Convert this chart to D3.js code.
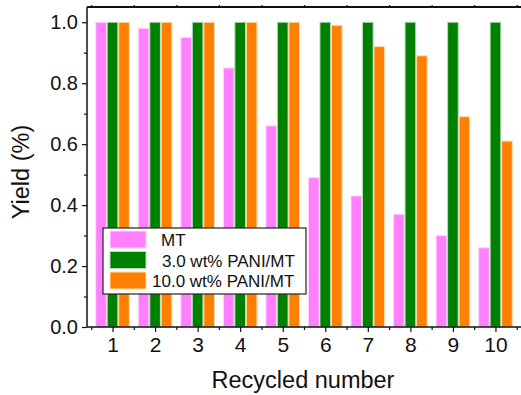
<!DOCTYPE html>
<html>
<head>
<meta charset="utf-8">
<script src="https://cdn.jsdelivr.net/npm/d3@7"></script>
<style>
  body { margin: 0; background: #fff; }
  svg { display: block; font-family: "Liberation Sans", Arial, sans-serif; }
</style>
</head>
<body>
<div id="chart"></div>
<script>
var cycles = [1, 2, 3, 4, 5, 6, 7, 8, 9, 10];
var seriesNames = ["MT", "3.0 wt% PANI/MT", "10.0 wt% PANI/MT"];
var mt = [1.0, 0.98, 0.95, 0.85, 0.66, 0.49, 0.43, 0.37, 0.30, 0.26];
var pani3 = [1.0, 1.0, 1.0, 1.0, 1.0, 1.0, 1.0, 1.0, 1.0, 1.0];
var pani10 = [1.0, 1.0, 1.0, 1.0, 1.0, 0.99, 0.92, 0.89, 0.69, 0.61];
var yTicks = [0, 0.2, 0.4, 0.6, 0.8, 1.0];

var colors = ["#ff80ff", "#008000", "#ff8000"];
var edges = ["#ffd6ff", "#b8dcb8", "#ffdcb8"];
var allSeries = [mt, pani3, pani10];

var W = 521, H = 395;
var pLeft = 87, pRight = 521, pTop = 7, pBottom = 327;

var svg = d3.select("#chart").append("svg")
    .attr("width", W)
    .attr("height", H);

var x = d3.scaleLinear().domain([0.4, 10.6]).range([pLeft, pRight]);
var y = d3.scaleLinear().domain([0, 1.05]).range([pBottom, pTop]);

var barW = 0.25, step = 0.27;

// bars
allSeries.forEach(function(vals, s) {
  svg.append("g")
    .selectAll("rect")
    .data(vals)
    .enter()
    .append("rect")
    .attr("x", function(d, i) { return x(cycles[i] + (s - 1) * step - barW / 2); })
    .attr("width", x(barW) - x(0))
    .attr("y", function(d) { return y(d); })
    .attr("height", function(d) { return y(0) - y(d); })
    .attr("fill", colors[s])
    .attr("stroke", edges[s])
    .attr("stroke-width", 1);
});

var halfTicks = d3.range(0.5, 10.6, 1);
var yMinor = [0.1, 0.3, 0.5, 0.7, 0.9];

// axes
var gx = svg.append("g").attr("transform", "translate(0," + pBottom + ")")
  .call(d3.axisBottom(x).tickValues(cycles).tickSize(5).tickPadding(5).tickFormat(d3.format("d")));
var gxm = svg.append("g").attr("transform", "translate(0," + pBottom + ")")
  .call(d3.axisBottom(x).tickValues(halfTicks).tickSize(3).tickFormat(""));
var gy = svg.append("g").attr("transform", "translate(" + pLeft + ",0)")
  .call(d3.axisLeft(y).tickValues(yTicks).tickSize(5).tickPadding(4).tickFormat(d3.format(".1f")));
var gym = svg.append("g").attr("transform", "translate(" + pLeft + ",0)")
  .call(d3.axisLeft(y).tickValues(yMinor).tickSize(3).tickFormat(""));
var gt = svg.append("g").attr("transform", "translate(0," + pTop + ")")
  .call(d3.axisTop(x).tickValues(halfTicks).tickSize(2).tickFormat(""));

gxm.select(".domain").remove();
gym.select(".domain").remove();
gx.select(".domain").attr("d", "M" + pLeft + ",0H" + pRight).attr("stroke-width", 1.5);
gt.select(".domain").attr("d", "M" + pLeft + ",0H" + pRight).attr("stroke-width", 2);
gy.select(".domain").attr("d", "M0," + pTop + "V" + pBottom).attr("stroke-width", 1.5);
svg.selectAll(".domain").attr("stroke", "#111");
svg.selectAll(".tick line").attr("stroke", "#111").attr("stroke-width", 1.2);

gx.selectAll("text").attr("font-size", 21).attr("fill", "#111")
  .attr("font-family", "'Liberation Sans', Arial, sans-serif");
gy.selectAll("text").attr("font-size", 20).attr("fill", "#111")
  .attr("font-family", "'Liberation Sans', Arial, sans-serif");

// axis titles
svg.append("text")
  .attr("x", (pLeft + pRight) / 2 - 1)
  .attr("y", 388)
  .attr("text-anchor", "middle")
  .attr("font-size", 23.5)
  .attr("fill", "#111")
  .text("Recycled number");

svg.append("text")
  .attr("transform", "translate(29,172) rotate(-90)")
  .attr("text-anchor", "middle")
  .attr("font-size", 23.5)
  .attr("fill", "#111")
  .text("Yield (%)");

// legend
var legend = svg.append("g").attr("transform", "translate(103,228)");
legend.append("rect")
  .attr("width", 203).attr("height", 66)
  .attr("fill", "#fff").attr("stroke", "#222").attr("stroke-width", 1.2);
var labelX = [58, 59, 49];
seriesNames.forEach(function(name, i) {
  legend.append("rect")
    .attr("x", 7).attr("y", 3 + i * 20.5)
    .attr("width", 36).attr("height", 17)
    .attr("fill", colors[i]).attr("stroke", edges[i]);
  legend.append("text")
    .attr("x", labelX[i]).attr("y", 18 + i * 20.5)
    .attr("font-size", 17)
    .attr("fill", "#111")
    .text(name);
});
</script>
</body>
</html>
